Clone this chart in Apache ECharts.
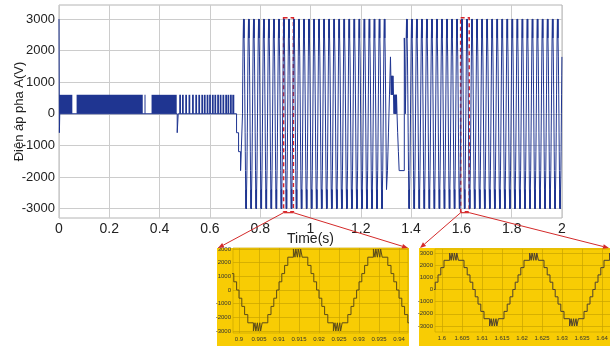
<!DOCTYPE html>
<html>
<head>
<meta charset="utf-8">
<script src="https://cdn.jsdelivr.net/npm/echarts@6/dist/echarts.min.js"></script>
<style>
html, body { margin: 0; padding: 0; background: #fff; }
#chart { width: 610px; height: 346px; }
</style>
</head>
<body>
<div id="chart"></div>
<script>
// one 20 ms period of the staircase: [ms after rising zero, volts]
var cycleSteps = [
  [0.0, 0], [0.3, 600], [1.0, 1200], [1.7, 1800], [2.5, 2400],
  [3.9, 3000], [4.3, 2400], [4.5, 3000], [4.9, 2400], [5.1, 3000], [5.5, 2400], [5.7, 3000], [6.1, 2400],
  [7.5, 1800], [8.3, 1200], [9.0, 600], [9.7, 0],
  [10.3, -600], [11.0, -1200], [11.7, -1800], [12.5, -2400],
  [13.9, -3000], [14.3, -2400], [14.5, -3000], [14.9, -2400], [15.1, -3000], [15.5, -2400], [15.7, -3000], [16.1, -2400],
  [17.5, -1800], [18.3, -1200], [19.0, -600], [19.7, 0]
];
var cycleMs = 20;

// [first rising zero (s), start (s), end (s)] of the two steady parts
var sineParts = [
  [0.7297, 0.7297, 1.3034],
  [1.378, 1.3782, 2.0]
];

// single points before the first steady part
var startPoints = [
  [0, 3000], [0.0015, -600], [0.003, 0],
  [0.470, -600], [0.474, 0],
  [0.706, -600], [0.714, -1200], [0.722, -1800]
];

// the disturbance between the two steady parts
var recoveryPoints = [
  [1.306, -1800], [1.308, -1200], [1.310, -600], [1.312, 0], [1.314, 600], [1.316, 1200], [1.318, 1800],
  [1.3195, 1200], [1.321, 600], [1.322, 1200], [1.324, 600], [1.325, 1200], [1.327, 600], [1.328, 1200], [1.330, 600],
  [1.332, 0], [1.333, 600], [1.335, 0], [1.336, 600], [1.338, 0], [1.339, 600], [1.341, 0], [1.342, 600], [1.344, 0],
  [1.3465, -600], [1.3495, -1200], [1.3525, -1800], [1.373, 2400], [1.3755, 1200], [1.377, 0]
];

// solid 0..600 V switching blocks at the start (s)
var pwmLow = 0, pwmHigh = 600;
var pwmBlocks = [
  [0, 0.053], [0.070, 0.333], [0.340, 0.342], [0.368, 0.468],
  [0.478, 0.485], [0.489, 0.496], [0.502, 0.509], [0.515, 0.522], [0.529, 0.536],
  [0.542, 0.549], [0.554, 0.561], [0.566, 0.573], [0.576, 0.583], [0.587, 0.594],
  [0.597, 0.604], [0.608, 0.615], [0.618, 0.625], [0.629, 0.636], [0.639, 0.646],
  [0.650, 0.657], [0.661, 0.668], [0.670, 0.677], [0.680, 0.687], [0.689, 0.697]
];

var yTicks = [-3000, -2000, -1000, 0, 1000, 2000, 3000];
var zoomTicks1 = [0.9, 0.905, 0.91, 0.915, 0.92, 0.925, 0.93, 0.935, 0.94];
var zoomTicks2 = [1.6, 1.605, 1.61, 1.615, 1.62, 1.625, 1.63, 1.635, 1.64];
// dashed boxes on the main plot [from, to] (s)
var zoomBoxes = [[0.893, 0.932], [1.597, 1.631]];

var wave = startPoints.slice();
sineParts.forEach(function (p, i) {
  for (var k = 0; p[0] + k * cycleMs / 1000 <= p[2]; k++) {
    cycleSteps.forEach(function (s) {
      var t = p[0] + (k * cycleMs + s[0]) / 1000;
      if (t >= p[1] && t <= p[2]) wave.push([t, s[1]]);
    });
  }
  if (i === 0) wave = wave.concat(recoveryPoints);
});

var font = "'Liberation Sans', Arial, sans-serif";
var blue = '#1f3591';
var yellow = '#f8cc04';
var gold = '#c9a300';
var plain = function (v) { return String(v); };

var chart = echarts.init(document.getElementById('chart'));

function insetX(idx, min, max, ticks) {
  return {
    gridIndex: idx, type: 'value', min: min, max: max,
    axisLine: { show: false },
    axisTick: { show: false, customValues: ticks },
    axisLabel: { customValues: ticks, formatter: plain, fontSize: 6, color: '#333', margin: 3, interval: 0 },
    splitLine: { lineStyle: { color: gold, width: 0.7 } }
  };
}
function insetY(idx, min, max) {
  return {
    gridIndex: idx, type: 'value', min: min, max: max,
    axisLine: { show: false },
    axisTick: { show: false, customValues: yTicks },
    axisLabel: { customValues: yTicks, formatter: plain, fontSize: 6, color: '#333', margin: 2 },
    splitLine: { lineStyle: { color: gold, width: 0.7 } }
  };
}

chart.setOption({
  animation: false,
  backgroundColor: '#fff',
  textStyle: { fontFamily: font },
  grid: [
    { left: 59, top: 5, width: 503, height: 213, outerBoundsMode: 'none', containLabel: false,
      show: true, borderColor: '#b4b4b4', borderWidth: 1, backgroundColor: '#fff' },
    { left: 233, top: 248, width: 175, height: 85, outerBoundsMode: 'none', containLabel: false,
      show: true, borderColor: gold, borderWidth: 0.7, backgroundColor: yellow },
    { left: 435, top: 249, width: 180, height: 83, outerBoundsMode: 'none', containLabel: false,
      show: true, borderColor: gold, borderWidth: 0.7, backgroundColor: yellow }
  ],
  xAxis: [
    {
      gridIndex: 0, type: 'value', min: 0, max: 2, interval: 0.2,
      name: 'Time(s)', nameLocation: 'middle', nameGap: 14, nameMoveOverlap: false,
      nameTextStyle: { fontSize: 14, color: '#222' },
      axisLine: { show: false }, axisTick: { show: false },
      axisLabel: { fontSize: 14, color: '#222', margin: 4, formatter: plain },
      splitLine: { lineStyle: { color: '#cccccc', width: 1 } }
    },
    insetX(1, 0.8985, 0.94225, zoomTicks1),
    insetX(2, 1.59825, 1.64325, zoomTicks2)
  ],
  yAxis: [
    {
      gridIndex: 0, type: 'value', min: -3300, max: 3443,
      name: 'Điện áp pha A(V)', nameLocation: 'middle', nameGap: 33, nameMoveOverlap: false,
      nameTextStyle: { fontSize: 13, color: '#222' },
      axisLine: { show: false },
      axisTick: { show: false, customValues: yTicks },
      axisLabel: { customValues: yTicks, formatter: plain, fontSize: 13, color: '#222', margin: 4 },
      splitLine: { lineStyle: { color: '#cccccc', width: 1 } }
    },
    insetY(1, -3146, 3073),
    insetY(2, -3493, 3329)
  ],
  series: [
    {
      type: 'custom', xAxisIndex: 0, yAxisIndex: 0,
      data: pwmBlocks.map(function (b) { return [b[0], b[1], pwmLow, pwmHigh]; }),
      encode: { x: [0, 1], y: [2, 3] },
      renderItem: function (params, api) {
        var a = api.coord([api.value(0), api.value(3)]);
        var b = api.coord([api.value(1), api.value(2)]);
        return {
          type: 'rect',
          shape: { x: a[0], y: a[1], width: Math.max(b[0] - a[0], 1), height: b[1] - a[1] },
          style: { fill: blue }
        };
      }
    },
    {
      type: 'line', xAxisIndex: 0, yAxisIndex: 0, data: wave, step: 'end',
      showSymbol: false, lineStyle: { color: blue, width: 1 },
      markArea: {
        silent: true,
        itemStyle: { color: 'rgba(0,0,0,0)', borderColor: '#d9262c', borderWidth: 1.5, borderType: [4, 3] },
        data: zoomBoxes.map(function (z) { return [{ xAxis: z[0], yAxis: 3040 }, { xAxis: z[1], yAxis: -3100 }]; })
      }
    },
    {
      type: 'line', xAxisIndex: 1, yAxisIndex: 1, data: wave, step: 'end',
      showSymbol: false, lineStyle: { color: '#5a4a1a', width: 1 }
    },
    {
      type: 'line', xAxisIndex: 2, yAxisIndex: 2, data: wave, step: 'end',
      showSymbol: false, lineStyle: { color: '#4d4030', width: 1 }
    }
  ]
});

// yellow panels behind the zooms and red arrows from the boxes to them
var panels = [[217, 248, 192, 98], [419, 248, 191, 98]];
var graphics = [];
panels.forEach(function (p) {
  graphics.push({ type: 'rect', z: -10, shape: { x: p[0], y: p[1], width: p[2], height: p[3] }, style: { fill: yellow } });
});
function arrow(x0, y0, x1, y1) {
  var dx = x1 - x0, dy = y1 - y0, len = Math.sqrt(dx * dx + dy * dy);
  var ux = dx / len, uy = dy / len, h = 6, w = 2.4;
  var bx = x1 - ux * h, by = y1 - uy * h;
  graphics.push({ type: 'line', z: 100, shape: { x1: x0, y1: y0, x2: bx, y2: by }, style: { stroke: '#d42a2a', lineWidth: 1 } });
  graphics.push({ type: 'polygon', z: 100, shape: { points: [[x1, y1], [bx - uy * w, by + ux * w], [bx + uy * w, by - ux * w]] }, style: { fill: '#d42a2a' } });
}
zoomBoxes.forEach(function (z, i) {
  var a = chart.convertToPixel({ gridIndex: 0 }, [z[0], -3100]);
  var b = chart.convertToPixel({ gridIndex: 0 }, [z[1], -3100]);
  graphics.push({ type: 'line', z: 100, shape: { x1: a[0], y1: a[1] + 1, x2: b[0], y2: b[1] + 1 }, style: { stroke: '#d42a2a', lineWidth: 1.2 } });
  var p = panels[i];
  arrow(a[0], a[1] + 1, p[0] + 1, p[1]);
  arrow(b[0], b[1] + 1, p[0] + p[2] - 1, p[1]);
});
chart.setOption({ graphic: graphics });
</script>
</body>
</html>
